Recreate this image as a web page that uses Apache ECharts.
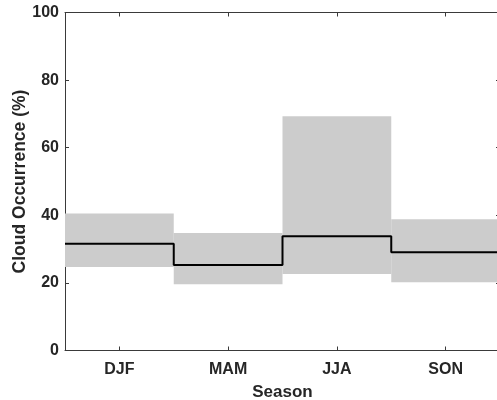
<!DOCTYPE html>
<html>
<head>
<meta charset="utf-8">
<script src="https://cdn.jsdelivr.net/npm/echarts@6/dist/echarts.min.js"></script>
<style>
  html, body { margin: 0; padding: 0; background: #fff; }
  #main { width: 497px; height: 400px; }
</style>
</head>
<body>
<div id="main"></div>
<script>
// seasons and cloud occurrence (%)
var seasons = ["DJF", "MAM", "JJA", "SON"];
var lowVals = [24.7, 19.6, 22.6, 20.2];
var highVals = [40.5, 34.8, 69.3, 38.8];
var meanVals = [31.6, 25.3, 33.8, 29.1];
var yTicks = [0, 20, 40, 60, 80, 100];

var font = "'Liberation Sans', Arial, sans-serif";
var ink = "#262626";
var spine = "#3a3a3a";

// step line: each season is one flat segment across its band
var stepData = [];
seasons.forEach(function (s, i) {
  stepData.push([i + 0.5, meanVals[i]]);
  stepData.push([i + 1.5, meanVals[i]]);
});

var boxData = seasons.map(function (s, i) {
  return [i + 1, lowVals[i], highVals[i]];
});

var chart = echarts.init(document.getElementById("main"));
var option = {
  animation: false,
  grid: { left: 65, top: 12.5, width: 435, height: 338, containLabel: false, outerBoundsMode: "none" },
  xAxis: [
    {
      type: "category",
      data: seasons,
      position: "bottom",
      name: "Season",
      nameLocation: "middle",
      nameGap: 33,
      nameMoveOverlap: false,
      nameTextStyle: { fontFamily: font, fontWeight: "bold", fontSize: 17, color: ink },
      axisLine: { show: true, onZero: false, lineStyle: { color: spine, width: 1 } },
      axisTick: { show: true, inside: true, alignWithLabel: true, length: 4, lineStyle: { color: spine } },
      axisLabel: { fontFamily: font, fontWeight: "bold", fontSize: 16, color: ink, margin: 11 },
      splitLine: { show: false }
    },
    {
      type: "category",
      data: seasons,
      position: "top",
      axisLine: { show: true, onZero: false, lineStyle: { color: spine, width: 1 } },
      axisTick: { show: true, inside: true, alignWithLabel: true, length: 4, lineStyle: { color: spine } },
      axisLabel: { show: false },
      splitLine: { show: false }
    },
    {
      type: "value",
      min: 0.5,
      max: 4.5,
      show: false
    }
  ],
  yAxis: [
    {
      type: "value",
      min: 0,
      max: 100,
      interval: 20,
      position: "left",
      name: "Cloud Occurrence (%)",
      nameLocation: "middle",
      nameGap: 36,
      nameMoveOverlap: false,
      nameTextStyle: { fontFamily: font, fontWeight: "bold", fontSize: 17.5, color: ink },
      axisLine: { show: true, onZero: false, lineStyle: { color: spine, width: 1 } },
      axisTick: { show: true, inside: true, length: 4, lineStyle: { color: spine } },
      axisLabel: {
        fontFamily: font, fontWeight: "bold", fontSize: 16, color: ink, margin: 6,
        formatter: function (v) { return yTicks.indexOf(v) >= 0 ? String(v) : ""; }
      },
      splitLine: { show: false }
    },
    {
      type: "value",
      min: 0,
      max: 100,
      interval: 20,
      position: "right",
      axisLine: { show: true, onZero: false, lineStyle: { color: spine, width: 1 } },
      axisTick: { show: true, inside: true, length: 4, lineStyle: { color: spine } },
      axisLabel: { show: false },
      splitLine: { show: false }
    }
  ],
  series: [
    {
      type: "custom",
      xAxisIndex: 2,
      yAxisIndex: 0,
      data: boxData,
      z: 1,
      renderItem: function (params, api) {
        var x = api.value(0);
        var p1 = api.coord([x - 0.5, api.value(2)]);
        var p2 = api.coord([x + 0.5, api.value(1)]);
        return {
          type: "rect",
          shape: { x: p1[0], y: p1[1], width: p2[0] - p1[0], height: p2[1] - p1[1] },
          style: { fill: "#cccccc" }
        };
      }
    },
    {
      type: "line",
      xAxisIndex: 2,
      yAxisIndex: 0,
      data: stepData,
      z: 3,
      symbol: "none",
      lineStyle: { color: "#000000", width: 2 }
    }
  ]
};
chart.setOption(option);
</script>
</body>
</html>
